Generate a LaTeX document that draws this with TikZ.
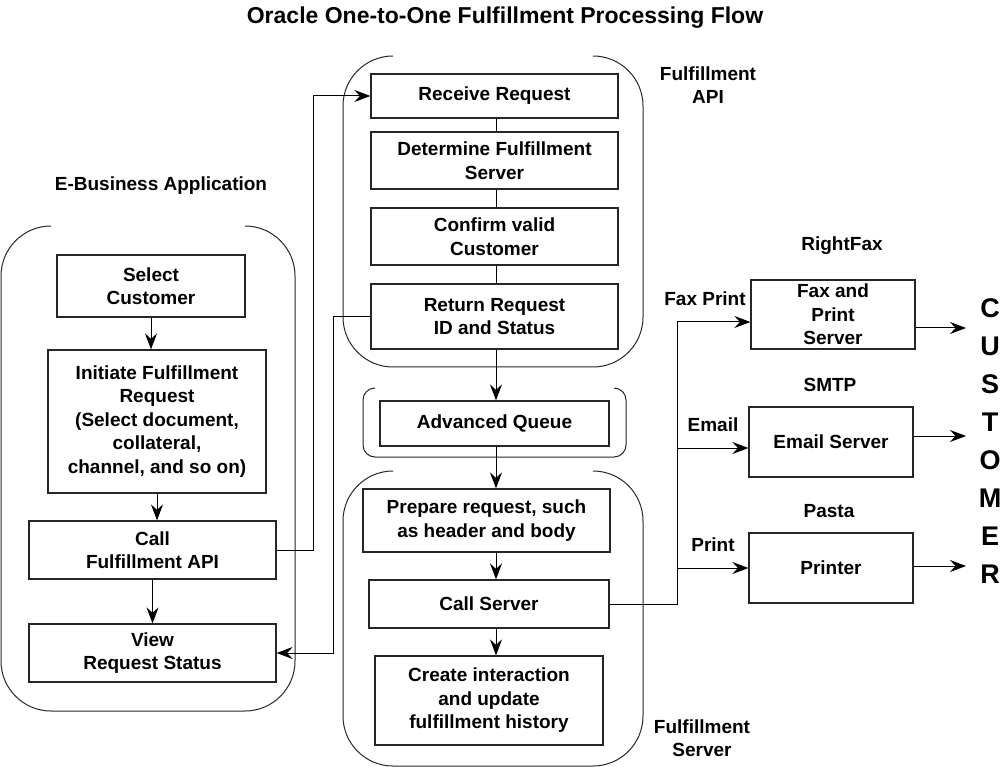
\documentclass[tikz,border=0pt]{standalone}
\usepackage{fontspec}
\setmainfont{Liberation Sans}
\usetikzlibrary{arrows.meta}

\tikzset{
    stepbox/.style={draw=black!85, line width=1.2pt, align=center, inner sep=0pt,
        font=\fontsize{19}{23.5}\selectfont\bfseries},
    lbl/.style={align=center, inner sep=0pt, font=\fontsize{19}{23}\selectfont\bfseries},
    grp/.style={draw=black!85, line width=1pt, rounded corners=#1},
    arr/.style={line width=1pt, -{Stealth[length=16pt,width=12pt,inset=5.5pt]}},
    link/.style={line width=1pt}
}

\begin{document}
\begin{tikzpicture}[x=1pt, y=-1pt]
    \useasboundingbox (0,0) rectangle (1007,767);

    % Title
    \node[lbl, font=\fontsize{23}{27}\selectfont\bfseries] (title) at (505,18) {Oracle One-to-One Fulfillment Processing Flow};

    % Groups (open at the top)
    \draw[grp=50pt] (51,226) -- (1,226) -- (1,711) -- (295,711) -- (295,226) -- (245,226);
    \draw[grp=50pt] (393,56) -- (343,56) -- (343,367) -- (643,367) -- (643,56) -- (593,56);
    \draw[grp=12pt] (375,388) -- (363,388) -- (363,457) -- (626,457) -- (626,388) -- (614,388);
    \draw[grp=50pt] (393,471) -- (343,471) -- (343,766) -- (643,766) -- (643,471) -- (593,471);

    % Group labels
    \node[lbl] (ebizlbl) at (161,186) {E-Business Application};
    \node[lbl] (apilbl) at (708,85) {Fulfillment\\API};
    \node[lbl] (srvlbl) at (702,738) {Fulfillment\\Server};

    % E-Business Application
    \node[stepbox, minimum width=188, minimum height=62] (sel) at (151,286) {Select\\Customer};
    \node[stepbox, minimum width=218, minimum height=143] (init) at (157,421.5) {Initiate Fulfillment\\Request\\(Select document,\\collateral,\\channel, and so on)};
    \node[stepbox, minimum width=247, minimum height=58] (call) at (152.5,550) {Call\\Fulfillment API};
    \node[stepbox, minimum width=247, minimum height=58] (view) at (152.5,653) {View\\Request Status};

    % Fulfillment API
    \node[stepbox, minimum width=247, minimum height=44] (recv) at (494.5,96) {Receive Request};
    \node[stepbox, minimum width=247, minimum height=57] (determ) at (494.5,160.5) {Determine Fulfillment\\Server};
    \node[stepbox, minimum width=247, minimum height=57] (confirm) at (494.5,236.5) {Confirm valid\\Customer};
    \node[stepbox, minimum width=247, minimum height=65] (ret) at (494.5,316.5) {Return Request\\ID and Status};

    % Advanced Queue
    \node[stepbox, minimum width=229, minimum height=45] (aq) at (494.5,423.5) {Advanced Queue};

    % Fulfillment Server
    \node[stepbox, minimum width=247, minimum height=63] (prep) at (486.5,520.5) {Prepare request, such\\as header and body};
    \node[stepbox, minimum width=240, minimum height=48] (callsrv) at (489,604) {Call Server};
    \node[stepbox, minimum width=228, minimum height=89] (create) at (489,700.5) {Create interaction\\and update\\fulfillment history};

    % Servers
    \node[stepbox, minimum width=164, minimum height=69] (fax) at (833,314.5) {Fax and\\Print\\Server};
    \node[stepbox, minimum width=164, minimum height=70] (email) at (831,442) {Email Server};
    \node[stepbox, minimum width=164, minimum height=70] (printer) at (831,568) {Printer};

    \node[lbl] (rightfax) at (842,246) {RightFax};
    \node[lbl] (smtp) at (830,385) {SMTP};
    \node[lbl] (pasta) at (829,511) {Pasta};
    \node[lbl] (faxlbl) at (705,299) {Fax Print};
    \node[lbl] (emaillbl) at (713,425) {Email};
    \node[lbl] (printlbl) at (713,545) {Print};

    % Customer
    \node[lbl, font=\fontsize{27}{38}\selectfont\bfseries] (cust) at (990,441) {C\\U\\S\\T\\O\\M\\E\\R};

    % Connector routes
    \coordinate (up) at (313,0);
    \coordinate (back) at (333,0);
    \coordinate (spine) at (496,0);
    \coordinate (bus) at (677,0);
    \coordinate (custin) at (966,0);

    % E-Business flow
    \draw[arr] (sel) -- (sel |- init.north);
    \draw[arr] (init) -- (init |- call.north);
    \draw[arr] (call) -- (call |- view.north);
    \draw[arr] (call.east) -| (up |- recv.west) -- (recv.west);
    \draw[arr] (ret.west) -| (back |- view.east) -- (view.east);

    % Central column
    \draw[link] (spine |- recv.south) -- (spine |- determ.north);
    \draw[link] (spine |- determ.south) -- (spine |- confirm.north);
    \draw[link] (spine |- confirm.south) -- (spine |- ret.north);
    \draw[arr] (spine |- ret.south) -- (spine |- aq.north);
    \draw[arr] (spine |- aq.south) -- (spine |- prep.north);
    \draw[arr] (spine |- prep.south) -- (spine |- callsrv.north);
    \draw[arr] (spine |- callsrv.south) -- (spine |- create.north);

    % Channels to the customer
    \foreach \srv/\din/\dout in {fax/-7.5/-13.5, email/-6/6, printer/0/2} {
        \coordinate (\srv-in) at ([yshift=\din pt]\srv.west);
        \coordinate (\srv-out) at ([yshift=\dout pt]\srv.east);
        \draw[arr] (bus |- \srv-in) -- (\srv-in);
        \draw[arr] (\srv-out) -- (custin |- \srv-out);
    }
    \draw[link] (callsrv.east) -| (bus |- fax-in);
\end{tikzpicture}
\end{document}
